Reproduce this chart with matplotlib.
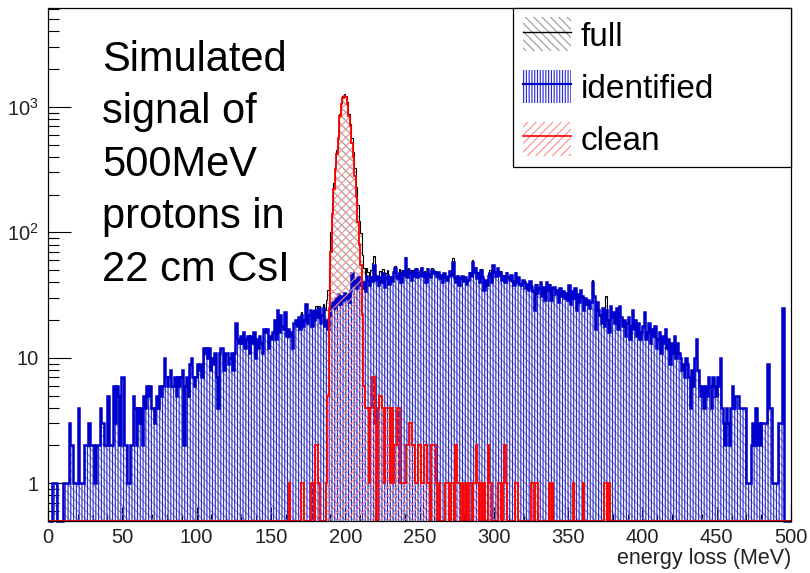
import numpy as np
import matplotlib
matplotlib.use("Agg")
import matplotlib.pyplot as plt
from matplotlib.patches import Patch
from matplotlib.lines import Line2D
from matplotlib.ticker import MultipleLocator, NullFormatter

plt.rcParams['font.family'] = ['Liberation Sans', 'DejaVu Sans']
plt.rcParams['mathtext.fontset'] = 'custom'
plt.rcParams['mathtext.rm'] = 'Liberation Sans'
plt.rcParams['mathtext.default'] = 'regular'
plt.rcParams['hatch.linewidth'] = 0.8

# energy loss, 1 MeV bins from 0 to 500 MeV
bin_edges = np.arange(0, 501, 1)

# "identified" counts per bin
identified = [
    0, 0, 0, 1, 1, 1, 0, 0, 0, 0,
    1, 1, 1, 1, 3, 2, 2, 1, 1, 1,
    4, 1, 1, 1, 2, 2, 2, 3, 2, 2,
    2, 1, 2, 2, 2, 4, 3, 3, 2, 2,
    5, 2, 2, 2, 6, 3, 6, 5, 2, 7,
    7, 2, 2, 1, 1, 2, 2, 5, 4, 2,
    4, 3, 4, 2, 5, 4, 6, 5, 6, 4,
    4, 3, 4, 5, 4, 6, 5, 6, 10, 7,
    6, 7, 8, 6, 6, 7, 5, 7, 6, 7,
    8, 2, 6, 7, 5, 9, 10, 7, 6, 7,
    9, 8, 9, 7, 12, 11, 12, 10, 12, 8,
    10, 9, 11, 7, 4, 11, 12, 12, 8, 11,
    11, 9, 10, 11, 8, 11, 19, 14, 13, 15,
    13, 16, 12, 14, 15, 11, 15, 13, 16, 10,
    14, 12, 15, 13, 11, 17, 16, 17, 12, 15,
    14, 16, 20, 14, 24, 16, 22, 18, 17, 23,
    15, 17, 15, 16, 12, 19, 20, 18, 21, 17,
    22, 18, 20, 27, 19, 22, 24, 18, 23, 20,
    24, 21, 25, 19, 22, 25, 18, 20, 17, 22,
    26, 28, 25, 30, 28, 32, 27, 31, 29, 33,
    30, 32, 28, 34, 47, 38, 42, 36, 44, 40,
    38, 36, 40, 34, 45, 42, 38, 44, 41, 55,
    42, 45, 38, 44, 40, 47, 37, 43, 46, 39,
    44, 41, 48, 52, 45, 43, 47, 40, 49, 46,
    63, 44, 50, 47, 42, 48, 45, 51, 44, 46,
    49, 52, 45, 47, 40, 51, 46, 44, 50, 48,
    47, 45, 48, 43, 46, 40, 47, 44, 42, 45,
    49, 46, 58, 44, 40, 45, 38, 43, 45, 41,
    44, 39, 42, 47, 45, 58, 48, 52, 43, 47,
    40, 50, 44, 35, 42, 38, 45, 47, 40, 55,
    48, 45, 52, 46, 48, 42, 45, 40, 47, 44,
    42, 46, 41, 38, 47, 40, 44, 39, 38, 42,
    40, 36, 39, 35, 41, 37, 34, 24, 38, 33,
    36, 40, 31, 37, 29, 40, 35, 38, 29, 36,
    37, 32, 35, 28, 36, 31, 34, 30, 33, 29,
    38, 27, 34, 30, 36, 24, 32, 28, 35, 31,
    24, 30, 27, 29, 25, 28, 40, 31, 17, 28,
    24, 22, 19, 25, 18, 24, 20, 16, 26, 21,
    23, 19, 25, 17, 26, 21, 18, 20, 15, 19,
    21, 14, 18, 24, 17, 20, 15, 19, 14, 16,
    18, 23, 14, 16, 19, 13, 17, 15, 18, 12,
    14, 16, 11, 15, 13, 17, 12, 14, 9, 13,
    11, 15, 10, 13, 11, 10, 8, 9, 7, 10,
    9, 7, 4, 8, 6, 10, 14, 8, 6, 5,
    6, 4, 6, 5, 7, 6, 4, 7, 6, 5,
    7, 6, 10, 4, 3, 2, 4, 3, 2, 4,
    6, 4, 5, 5, 5, 4, 4, 4, 4, 4,
    1, 1, 1, 2, 3, 2, 4, 2, 3, 2,
    3, 3, 3, 3, 9, 4, 4, 1, 1, 1,
    1, 3, 3, 3, 25, 0, 0, 0, 0, 0,
]

# "clean" counts, bins 160..379 (zero elsewhere)
clean_start = 160
clean_counts = [
    0, 0, 1, 0, 0, 0, 0, 0, 0, 0,
    1, 1, 0, 0, 0, 0, 0, 1, 1, 0,
    2, 2, 1, 0, 0, 0, 0, 1, 5, 25,
    70, 140, 220, 320, 420, 560, 850, 1050, 1180, 1230,
    1190, 1050, 850, 700, 520, 400, 280, 190, 120, 80,
    55, 22, 6, 4, 4, 4, 1, 4, 7, 7,
    3, 0, 4, 5, 5, 4, 1, 4, 4, 4,
    1, 4, 1, 2, 2, 4, 4, 1, 1, 1,
    1, 2, 2, 3, 3, 2, 2, 1, 1, 2,
    2, 1, 1, 2, 2, 1, 1, 0, 2, 2,
    2, 1, 0, 1, 0, 0, 0, 1, 1, 1,
    0, 1, 1, 0, 2, 1, 1, 1, 0, 1,
    0, 1, 0, 1, 1, 0, 1, 1, 2, 1,
    0, 1, 0, 1, 0, 0, 2, 1, 1, 0,
    0, 0, 0, 1, 1, 0, 1, 2, 1, 0,
    0, 0, 0, 0, 1, 1, 0, 0, 0, 0,
    0, 0, 0, 0, 0, 1, 1, 0, 1, 1,
    0, 0, 0, 0, 0, 0, 0, 1, 0, 1,
    0, 0, 0, 0, 0, 0, 0, 0, 0, 0,
    0, 0, 0, 1, 0, 0, 0, 0, 0, 0,
    1, 0, 0, 0, 0, 0, 0, 0, 0, 0,
    0, 0, 0, 0, 1, 1, 0, 1, 0, 0,
]

# events in "full" that are neither identified nor clean
other_start = 184
other_counts = [
    0, 2, 6, 8, 13, 5, 4, 3, 3, 2,
    2, 3, 4, 3, 5, 4, 3, 4, 3, 2,
    3, 2, 2, 3, 2, 4, 6, 8, 6, 5,
    3, 2, 1, 2, 9, 3, 1, 0,
]
other_spike_bins = [272, 285, 297, 366, 375]
other_spike_counts = [3, 2, 2, 2, 6]

ident = np.array(identified, dtype=float)
clean = np.zeros(len(ident))
clean[clean_start:clean_start + len(clean_counts)] = clean_counts
full = ident + clean
full[other_start:other_start + len(other_counts)] += other_counts
full[other_spike_bins] += other_spike_counts

ymin, ymax = 0.5, 6200


def draw_hist(ax, counts, line_color, lw, hatch, hatch_color, z):
    shown = np.maximum(counts, ymin)  # empty bins sit on the bottom axis
    ax.stairs(shown, bin_edges, baseline=0.1, fill=True, facecolor='none',
              edgecolor=hatch_color, hatch=hatch, linewidth=0, zorder=z)
    ax.stairs(shown, bin_edges, baseline=None, color=line_color,
              linewidth=lw, zorder=z + 0.05, clip_on=False)


fig = plt.figure(figsize=(8.1, 5.73), dpi=100)
ax = fig.add_axes([48 / 810, 52 / 573, 743 / 810, 513.5 / 573])

gray_hatch, blue_hatch, red_hatch = '#9a9a9a', '#2323d6', '#ff8a8a'
blue_line = '#0000cc'

draw_hist(ax, full, 'black', 0.8, '\\\\\\\\', gray_hatch, 1.0)
draw_hist(ax, ident, blue_line, 1.8, '||||||', blue_hatch, 1.2)
draw_hist(ax, clean, 'red', 1.3, '////', red_hatch, 1.4)

ax.set_yscale('log')
ax.set_xlim(0, 500)
ax.set_ylim(ymin, ymax)
ax.set_axisbelow(True)

ax.xaxis.set_major_locator(MultipleLocator(50))
ax.xaxis.set_minor_locator(MultipleLocator(10))
ax.set_yticks([1, 10, 100, 1000])
ax.set_yticklabels(['1', '10', '$10^{2}$', '$10^{3}$'])
ax.yaxis.set_minor_formatter(NullFormatter())

ax.tick_params(axis='x', which='major', direction='in', length=10, width=0.8,
               labelsize=14.5, pad=5, top=False, labelcolor='#222222')
ax.tick_params(axis='x', which='minor', direction='in', length=5, width=0.8, top=False)
ax.tick_params(axis='y', which='major', direction='in', length=16.5, width=0.8,
               labelsize=14.5, pad=7, right=False, labelcolor='#222222')
ax.tick_params(axis='y', which='minor', direction='in', length=8, width=0.8, right=False)
for sp in ax.spines.values():
    sp.set_linewidth(0.9)

ax.set_xlabel('energy loss (MeV)', loc='right', fontsize=15.5, labelpad=1, color='#222222')

fig.text(102 / 810, 1 - 40 / 573,
         "Simulated\nsignal of\n500MeV\nprotons in\n22 cm CsI",
         fontsize=30, va='top', ha='left', linespacing=1.4)

handles = [
    (Patch(facecolor='none', edgecolor=gray_hatch, hatch='\\\\\\\\', linewidth=0),
     Line2D([], [], color='black', lw=1.0)),
    (Patch(facecolor='none', edgecolor=blue_hatch, hatch='||||||', linewidth=0),
     Line2D([], [], color=blue_line, lw=1.5)),
    (Patch(facecolor='none', edgecolor=red_hatch, hatch='////', linewidth=0),
     Line2D([], [], color='red', lw=1.2)),
]
leg = ax.legend(handles, ['full', 'identified', 'clean'],
                loc='upper right', bbox_to_anchor=(0.626, 0, 0.374, 1.0),
                mode='expand', borderaxespad=0, fontsize=24,
                handlelength=1.45, handleheight=1.17, handletextpad=0.27,
                labelspacing=0.52, borderpad=0.3, fancybox=False,
                framealpha=1, edgecolor='black')
leg.get_frame().set_linewidth(0.9)
leg.set_zorder(5)

fig.savefig('out.png', dpi=100)
